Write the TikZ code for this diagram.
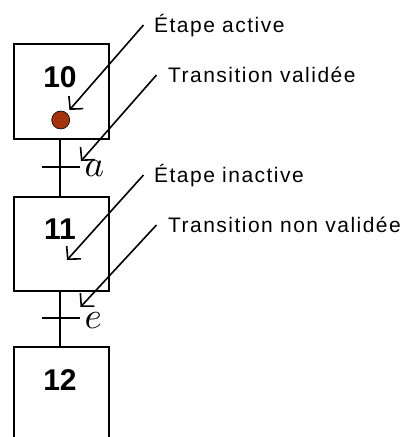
\documentclass[tikz,border=0pt]{standalone}
\usepackage{fontspec}
\setmainfont{Liberation Sans}
\newfontfamily\lblfont{Liberation Sans}[LetterSpace=7]
\usetikzlibrary{arrows.meta}
\definecolor{dotbrown}{RGB}{163,52,14}
\tikzset{
  x=1pt, y=-1pt,
  stepbox/.style={draw, line width=2pt, minimum width=95pt, minimum height=95pt, inner sep=0pt, anchor=north west},
  stepnum/.style={font=\fontsize{30}{32}\selectfont\bfseries, anchor=base, inner sep=0pt},
  lbl/.style={font=\lblfont\fontsize{21}{24}\selectfont, anchor=base west, inner sep=0pt},
  cond/.style={scale=3.7, anchor=base west, inner sep=0pt},
  link/.style={line width=1.8pt},
  bar/.style={fill=black, draw=none, minimum width=38pt, minimum height=1.8pt, inner sep=0pt},
  arr/.style={line width=1.6pt, -{Straight Barb[length=9pt, width=19pt, line width=1.6pt]}}
}
\begin{document}
\begin{tikzpicture}
\useasboundingbox (0,0) rectangle (416,437);
% steps
\node[stepbox] (s10) at (13,43) {};
\node[stepbox, minimum height=94pt] (s11) at (13,196) {};
\node[stepbox, minimum height=110pt] (s12) at (13,346) {};
\node[stepnum] (n10) at (60,87) {10};
\node[stepnum] (n11) at (60,239.5) {11};
\node[stepnum] (n12) at (60,390) {12};
% active token
\node[circle, fill=dotbrown, draw=black, line width=0.6pt, minimum size=18pt, inner sep=0pt] (dot) at (60.7,120) {};
% links
\draw[link] (s10.south -| 60,0) -- (s11.north -| 60,0);
\draw[link] (s11.south -| 60,0) -- (s12.north -| 60,0);
% transitions
\node[bar] (ta) at (60.5,166.7) {};
\node[bar] (te) at (60.5,318.3) {};
\node[cond] (ca) at (84,176.7) {$a$};
\node[cond] (ce) at (84,328) {$e$};
% labels
\node[lbl] (l1) at (154,32.7) {Étape active};
\node[lbl] (l2) at (168,82) {Transition validée};
\node[lbl] (l3) at (154,182.5) {Étape inactive};
\node[lbl] (l4) at (168,232.3) {Transition non validée};
% arrow ends
\coordinate (p1) at (143.5,25);
\coordinate (p2) at (156.5,75);
\coordinate (p3) at (143.5,175);
\coordinate (p4) at (156.5,225);
\coordinate (t2) at (81,161);
\coordinate (t3) at (67,260);
\coordinate (t4) at (80.5,307);
\draw[arr, shorten >=4pt] (p1) -- (dot);
\draw[arr] (p2) -- (t2);
\draw[arr] (p3) -- (t3);
\draw[arr] (p4) -- (t4);
\end{tikzpicture}
\end{document}
